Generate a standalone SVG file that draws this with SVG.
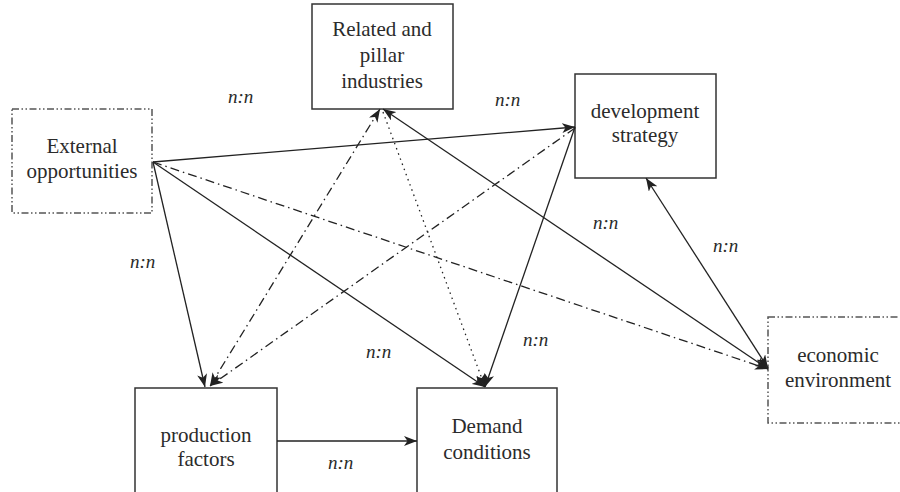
<svg xmlns="http://www.w3.org/2000/svg" width="900" height="492" viewBox="0 0 900 492">
<style>
.box{fill:#fff;stroke:#333;stroke-width:1.5}
.dbox{fill:#fff;stroke:#555;stroke-width:1.5;stroke-dasharray:7 2.5 1.5 2.5 1.5 2.5}
.t{font-size:21px;fill:#2b2b2b;text-anchor:middle}
.lab{font-size:19px;font-style:italic;fill:#2b2b2b}
.c{fill:none;stroke:#222;stroke-width:1.3}
.dd{stroke-dasharray:9 4 1.5 4}
.dot{stroke-dasharray:1.5 4}
</style>
<defs>
<marker id="ah" markerUnits="userSpaceOnUse" markerWidth="14" markerHeight="10" refX="13" refY="5" orient="auto-start-reverse" viewBox="0 0 14 10">
<path d="M0,0 L13,5 L0,10 L3.5,5 Z" fill="#222"/>
</marker>
</defs>
<g font-family="'Liberation Serif', 'DejaVu Serif', 'Times New Roman', serif">
<g id="ext"><rect class="dbox" x="12" y="109" width="140" height="104"/><text class="t" x="82" y="153">External</text><text class="t" x="82" y="178">opportunities</text></g>
<g id="rel"><rect class="box" x="312" y="4" width="141" height="105"/><text class="t" x="382" y="36">Related and</text><text class="t" x="382" y="62">pillar</text><text class="t" x="382" y="88">industries</text></g>
<g id="dev"><rect class="box" x="575" y="74" width="141" height="104"/><text class="t" x="645" y="118">development</text><text class="t" x="645" y="142">strategy</text></g>
<g id="eco"><rect class="dbox" x="768" y="317" width="140" height="106"/><text class="t" x="838" y="362">economic</text><text class="t" x="838" y="387">environment</text></g>
<g id="prod"><rect class="box" x="135" y="388" width="142" height="120"/><text class="t" x="206" y="442">production</text><text class="t" x="206" y="466">factors</text></g>
<g id="dem"><rect class="box" x="417" y="388" width="140" height="120"/><text class="t" x="487" y="433">Demand</text><text class="t" x="487" y="459">conditions</text></g>
<g id="connectors">
<line class="c" x1="153" y1="162" x2="575" y2="127" marker-end="url(#ah)"/>
<line class="c" x1="153" y1="162" x2="485" y2="387" marker-end="url(#ah)"/>
<line class="c" x1="153" y1="162" x2="205" y2="387" marker-end="url(#ah)"/>
<line class="c dd" x1="153" y1="162" x2="768" y2="369" marker-end="url(#ah)"/>
<line class="c dd" x1="380" y1="109" x2="210" y2="386" marker-start="url(#ah)" marker-end="url(#ah)"/>
<line class="c dd" x1="575" y1="128" x2="210" y2="386" marker-end="url(#ah)"/>
<line class="c dot" x1="383" y1="112" x2="485" y2="387" marker-end="url(#ah)"/>
<line class="c" x1="575" y1="127" x2="485" y2="387" marker-end="url(#ah)"/>
<line class="c" x1="768" y1="369" x2="383" y2="109" marker-start="url(#ah)" marker-end="url(#ah)"/>
<line class="c" x1="768" y1="368" x2="646" y2="178" marker-start="url(#ah)" marker-end="url(#ah)"/>
<line class="c" x1="277" y1="441" x2="417" y2="441" marker-end="url(#ah)"/>
</g>
<g id="labels">
<text class="lab" x="228" y="103">n:n</text>
<text class="lab" x="495" y="106">n:n</text>
<text class="lab" x="130" y="268">n:n</text>
<text class="lab" x="593" y="229">n:n</text>
<text class="lab" x="713" y="252">n:n</text>
<text class="lab" x="523" y="346">n:n</text>
<text class="lab" x="366" y="358">n:n</text>
<text class="lab" x="328" y="469">n:n</text>
</g>
</g>
</svg>
